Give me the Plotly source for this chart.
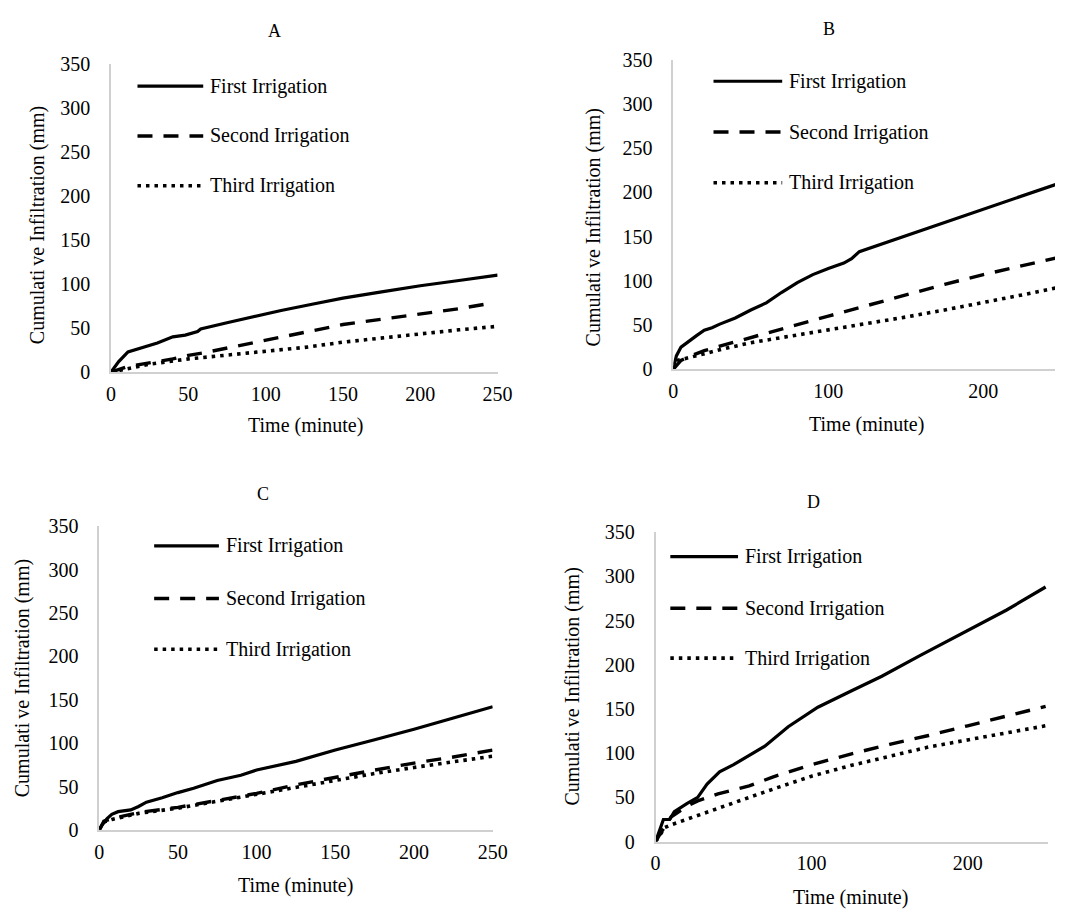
import plotly.graph_objects as go

W, H = 1070, 917
FONT = "Liberation Serif, Times New Roman, serif"

# ---------------- data ----------------
# Panel A
a_first_t = [0, 5, 11, 20, 30, 40, 48, 56, 58, 75, 90, 110, 130, 150, 175, 200, 225, 250]
a_first_v = [0, 12, 23, 28, 33, 40, 42, 46, 49, 56, 62, 70, 77, 84, 91, 98, 104, 110]
a_second_t = [0, 5, 10, 20, 30, 40, 50, 60, 80, 100, 125, 150, 175, 200, 225, 245]
a_second_v = [0, 3, 6, 9, 12, 15, 19, 22, 29, 36, 45, 54, 60, 66, 72, 78]
a_third_t = [0, 10, 25, 50, 75, 100, 125, 150, 175, 200, 225, 250]
a_third_v = [0, 4, 9, 15, 19, 23, 28, 34, 39, 44, 48, 52]

# Panel B
b_first_t = [0, 2, 5, 10, 15, 20, 25, 30, 40, 50, 60, 70, 80, 90, 100, 110, 115, 120, 140, 160, 180, 200, 225, 250]
b_first_v = [0, 15, 25, 32, 38, 44, 47, 51, 58, 67, 75, 87, 98, 107, 114, 120, 125, 133, 145, 157, 169, 181, 196, 211]
b_second_t = [0, 5, 10, 20, 30, 40, 50, 75, 100, 125, 150, 175, 200, 225, 250]
b_second_v = [0, 10, 14, 21, 26, 31, 36, 48, 60, 72, 84, 96, 107, 117, 127]
b_third_t = [0, 3, 10, 20, 30, 50, 75, 100, 125, 150, 175, 200, 225, 250]
b_third_v = [0, 10, 13, 18, 22, 30, 37, 44, 51, 59, 67, 75, 84, 93]

# Panel C
c_first_t = [0, 2, 5, 8, 12, 17, 20, 25, 30, 40, 50, 60, 75, 90, 100, 125, 150, 175, 200, 225, 250]
c_first_v = [0, 6, 13, 18, 21, 22, 23, 27, 32, 37, 43, 48, 57, 63, 69, 79, 92, 104, 116, 129, 142]
c_second_t = [0, 3, 8, 15, 25, 50, 75, 100, 125, 150, 175, 200, 225, 250]
c_second_v = [0, 10, 13, 16, 20, 26, 34, 42, 52, 61, 69, 77, 84, 92]
c_third_t = [0, 3, 8, 15, 25, 50, 75, 100, 125, 150, 175, 200, 225, 250]
c_third_v = [0, 9, 12, 15, 19, 25, 33, 41, 50, 58, 65, 72, 79, 85]

# Panel D
d_first_t = [0, 3, 5, 9, 12, 20, 27, 33, 41, 50, 60, 70, 85, 104, 125, 145, 170, 198, 225, 250]
d_first_v = [0, 16, 25, 25, 34, 43, 50, 65, 79, 87, 97, 108, 130, 152, 170, 187, 211, 237, 262, 288]
d_second_t = [0, 3, 10, 15, 20, 27, 40, 60, 75, 100, 125, 150, 175, 200, 225, 250]
d_second_v = [0, 9, 28, 34, 40, 46, 54, 63, 73, 87, 99, 110, 120, 131, 142, 153]
d_third_t = [0, 2, 6, 10, 20, 30, 41, 50, 60, 78, 100, 125, 150, 175, 200, 225, 250]
d_third_v = [0, 6, 16, 19, 25, 31, 38, 44, 50, 61, 74, 86, 96, 107, 115, 123, 131]

series_names = ["First Irrigation", "Second Irrigation", "Third Irrigation"]
panel_titles = ["A", "B", "C", "D"]
y_ticks = [0, 50, 100, 150, 200, 250, 300, 350]
x_ticks_ac = [0, 50, 100, 150, 200, 250]
x_ticks_bd = [0, 100, 200]
x_title = "Time (minute)"
y_title = "Cumulati\u2009ve Infiltration (mm)"

panels = [
    [(a_first_t, a_first_v), (a_second_t, a_second_v), (a_third_t, a_third_v)],
    [(b_first_t, b_first_v), (b_second_t, b_second_v), (b_third_t, b_third_v)],
    [(c_first_t, c_first_v), (c_second_t, c_second_v), (c_third_t, c_third_v)],
    [(d_first_t, d_first_v), (d_second_t, d_second_v), (d_third_t, d_third_v)],
]

# ---------------- styling / layout ----------------
styles = [
    dict(width=3.2, dash="solid"),
    dict(width=3.4, dash="15px,11px"),
    dict(width=3.6, dash="3.5px,5px"),
]

def px_x(x):
    return x / W

def px_y(y):
    return 1 - y / H

boxes = [
    dict(l=108, r=502, t=54, b=370, xr=[0, 250], xt=x_ticks_ac),
    dict(l=681, r=1070, t=50, b=367, xr=[0, 246.2], xt=x_ticks_bd),
    dict(l=96, r=497, t=528, b=839, xr=[0, 250], xt=x_ticks_ac),
    dict(l=663, r=1063, t=534, b=851, xr=[0, 251.6], xt=x_ticks_bd),
]
title_pos = [(275, 20), (840, 18), (263, 495), (824, 503)]
xtitle_pos = [(306, 425), (878, 424), (296, 896), (862, 908)]
ytitle_pos = [(33, 219), (600, 222), (18, 684), (578, 692)]
legend_pos = [
    (135, 202, 207, [77, 128, 179]),
    (722, 792, 797, [72, 124, 176]),
    (152, 218, 223, [548, 602, 654]),
    (678, 747, 752, [559, 612, 663]),
]

fig = go.Figure()
layout = dict(
    width=W, height=H, margin=dict(l=0, r=0, t=0, b=0),
    paper_bgcolor="white", plot_bgcolor="white",
    showlegend=False, font=dict(family=FONT, size=20, color="black"),
)
annotations = []
shapes = []

for i, (panel, box) in enumerate(zip(panels, boxes)):
    k = "" if i == 0 else str(i + 1)
    for (t, v), name, st in zip(panel, series_names, styles):
        fig.add_trace(go.Scatter(
            x=t, y=v, name=name, mode="lines",
            line=dict(color="black", width=st["width"], dash=st["dash"]),
            xaxis="x" + k, yaxis="y" + k, showlegend=False,
        ))
    layout["xaxis" + k] = dict(
        domain=[px_x(box["l"]), px_x(box["r"])], range=box["xr"], anchor="y" + k,
        tickvals=box["xt"], showgrid=False, zeroline=False,
        showline=True, linecolor="#d0d0d0", linewidth=1.5,
        ticks="outside", ticklen=3, tickcolor="rgba(0,0,0,0)",
        tickfont=dict(family=FONT, size=20, color="black"), fixedrange=True,
    )
    layout["yaxis" + k] = dict(
        domain=[px_y(box["b"]), px_y(box["t"])], range=[0, 350], anchor="x" + k,
        tickvals=y_ticks, showgrid=False, zeroline=False,
        showline=True, linecolor="#d0d0d0", linewidth=1.5,
        ticks="outside", ticklen=15, tickcolor="rgba(0,0,0,0)",
        tickfont=dict(family=FONT, size=20, color="black"), fixedrange=True,
    )
    tx, ty = title_pos[i]
    annotations.append(dict(text=panel_titles[i], x=px_x(tx), y=px_y(ty), xref="paper", yref="paper",
                            showarrow=False, xanchor="center", yanchor="middle",
                            font=dict(family=FONT, size=18, color="black")))
    xx, xy = xtitle_pos[i]
    annotations.append(dict(text=x_title, x=px_x(xx), y=px_y(xy), xref="paper", yref="paper",
                            showarrow=False, xanchor="center", yanchor="middle",
                            font=dict(family=FONT, size=20, color="black")))
    yx, yy = ytitle_pos[i]
    annotations.append(dict(text=y_title, x=px_x(yx), y=px_y(yy), xref="paper", yref="paper",
                            showarrow=False, xanchor="center", yanchor="middle", textangle=-90,
                            font=dict(family=FONT, size=20, color="black")))
    lx0, lx1, ltx, rows = legend_pos[i]
    for name, st, ry in zip(series_names, styles, rows):
        shapes.append(dict(type="line", xref="paper", yref="paper",
                           x0=px_x(lx0), x1=px_x(lx1), y0=px_y(ry), y1=px_y(ry),
                           line=dict(color="black", width=st["width"], dash=st["dash"])))
        annotations.append(dict(text=name, x=px_x(ltx), y=px_y(ry), xref="paper", yref="paper",
                                showarrow=False, xanchor="left", yanchor="middle",
                                font=dict(family=FONT, size=20, color="black")))

layout["annotations"] = annotations
layout["shapes"] = shapes
fig.update_layout(**layout)
fig.write_html("out.html")
